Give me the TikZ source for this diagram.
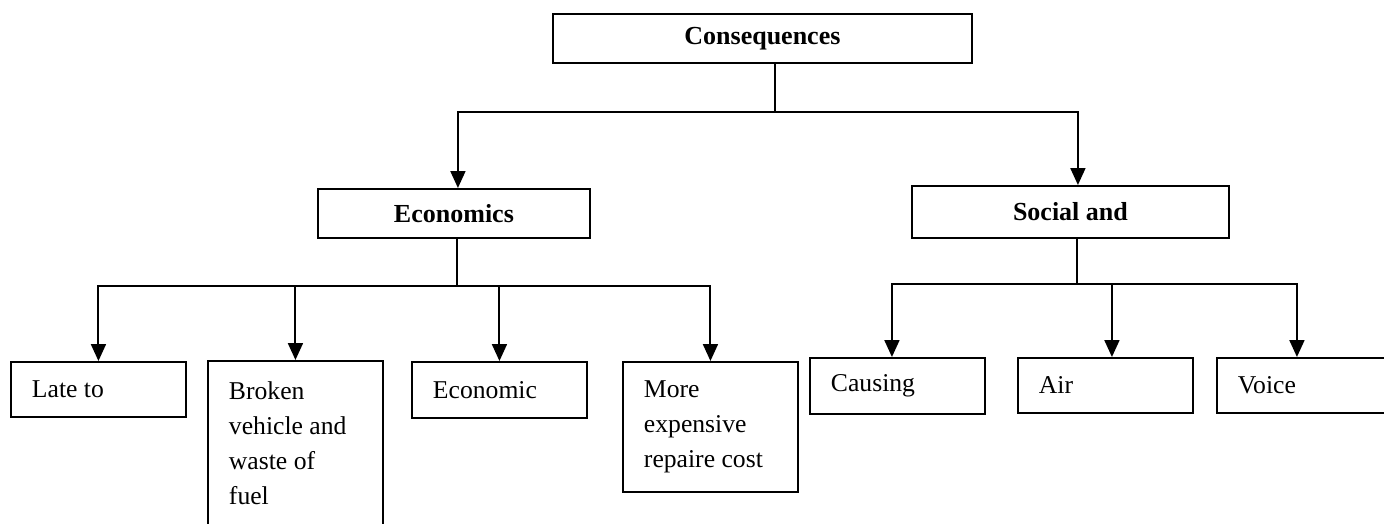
\documentclass[tikz,border=0pt]{standalone}
\usepackage{fontspec}
\setmainfont{Liberation Serif}
\usetikzlibrary{arrows.meta,positioning}

\tikzset{
  headbox/.style={rectangle, draw, line width=1.1pt, anchor=north west, font=\fontsize{14.8}{19.9}\selectfont\bfseries},
  leafbox/.style={rectangle, draw, line width=1.1pt, anchor=north west, text width=2.66cm, inner xsep=0.42cm, align=flush left, font=\fontsize{14.6}{19.9}\selectfont},
  link/.style={line width=1.1pt},
  arr/.style={line width=1.1pt, -{Triangle[length=3.4mm,width=3mm]}}
}

\begin{document}
\begin{tikzpicture}[x=0.02cm, y=-0.02cm]
    \clip (0,0) rectangle (1384,524);

    % Top level
    \node[headbox, minimum width=8.38cm, minimum height=0.98cm] (consequences) at (552,13) {Consequences};

    % Second level
    \node[headbox, minimum width=5.44cm, minimum height=0.98cm] (economics) at (317,188) {Economics};
    \node[headbox, minimum width=6.34cm, minimum height=1.04cm] (social) at (911,185) {Social and};

    % Economic consequences
    \node[leafbox, minimum height=1.1cm] (late) at (10,361) {Late to};
    \node[leafbox, minimum height=3.28cm] (broken) at (207,360) {Broken\\ vehicle and\\ waste of\\ fuel};
    \node[leafbox, minimum height=1.12cm] (economic) at (411,361) {Economic};
    \node[leafbox, minimum height=2.6cm] (repair) at (622,361) {More\\ expensive\\ repaire cost};

    % Social consequences
    \node[leafbox, minimum height=1.12cm] (causing) at (809,357) {Causing};
    \node[leafbox, minimum height=1.1cm] (air) at (1017,357) {Air};
    \node[leafbox, minimum height=1.1cm] (voice) at (1216,357) {Voice};

    % Connectors
    \coordinate (topfork) at (775,112);
    \draw[link] (consequences.south -| topfork) -- (topfork);
    \draw[arr] (topfork) -| ([xshift=0.08cm]economics.north);
    \draw[arr] (topfork) -| ([xshift=0.15cm]social.north);

    \coordinate (ecofork) at (457,286);
    \draw[link] (economics.south -| ecofork) -- (ecofork);
    \draw[arr] (ecofork) -| (late.north);
    \draw[arr] (ecofork) -| (broken.north);
    \draw[arr] (ecofork) -| (economic.north);
    \draw[arr] (ecofork) -| (repair.north);

    \coordinate (socfork) at (1077,284);
    \draw[link] (social.south -| socfork) -- (socfork);
    \draw[arr] (socfork) -| ([xshift=-0.11cm]causing.north);
    \draw[arr] (socfork) -| ([xshift=0.13cm]air.north);
    \draw[arr] (socfork) -| ([xshift=-0.15cm]voice.north);
\end{tikzpicture}
\end{document}
